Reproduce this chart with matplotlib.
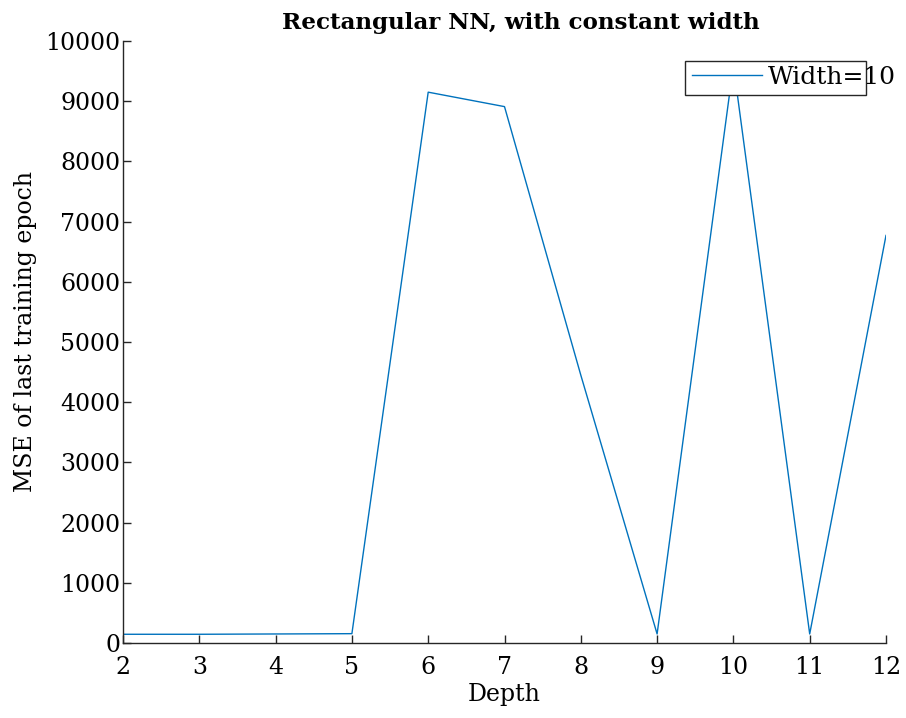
import matplotlib
matplotlib.use("Agg")
import matplotlib.pyplot as plt
from matplotlib.patches import Rectangle

depth = [2, 3, 4, 5, 6, 7, 8, 9, 10, 11, 12]
mse = [145, 145, 150, 155, 9150, 8910, 4450, 150, 9600, 150, 6770]
xticks = [2, 3, 4, 5, 6, 7, 8, 9, 10, 11, 12]
yticks = [0, 1000, 2000, 3000, 4000, 5000, 6000, 7000, 8000, 9000, 10000]
series_label = "Width=10"

plt.rcParams['font.family'] = ['DejaVu Serif']
W, H = 906, 718
fig = plt.figure(figsize=(W / 100, H / 100), dpi=100)
L, R, T, B = 123, 886, 41, 643
ax = fig.add_axes([L / W, 1 - B / H, (R - L) / W, (B - T) / H])

line, = ax.plot(depth, mse, color='#0072BD', lw=1.0, label=series_label)
ax.set_xlim(2, 12)
ax.set_ylim(0, 10000)
ax.set_xticks(xticks)
ax.set_yticks(yticks)
ax.spines['top'].set_visible(False)
ax.spines['right'].set_visible(False)
for s in ('left', 'bottom'):
    ax.spines[s].set_linewidth(1.0)
    ax.spines[s].set_color('#262626')
ax.tick_params(axis='both', direction='in', length=6, width=1.0, colors='#262626',
               labelcolor='black', labelsize=17)
ax.tick_params(axis='x', pad=9)
ax.tick_params(axis='y', pad=2)

ax.set_xlabel('Depth', fontsize=17, labelpad=3)
ax.set_ylabel('MSE of last training epoch', fontsize=17, labelpad=5)
ax.yaxis.set_label_coords((37 - L) / (R - L), (B - 331) / (B - T))
ax.set_title('Rectangular NN, with constant width', fontsize=16.6, fontweight='bold',
             x=(521 - L) / (R - L), pad=9)

# legend box (text overflows box as in reference)
aw, ah = R - L, B - T
ax.add_patch(Rectangle(((685 - L) / aw, (B - 95.3) / ah), (866 - 685) / aw, (95.3 - 60.7) / ah,
                       transform=ax.transAxes, facecolor='white', edgecolor='#262626',
                       lw=1.0, zorder=4, clip_on=False))
leg = ax.legend(handles=[line], labels=[series_label], loc='center left',
                bbox_to_anchor=((692 - L) / aw, (B - 77.7) / ah), frameon=False,
                borderpad=0, borderaxespad=0, handlelength=2.8, handletextpad=0.24,
                fontsize=18)
leg.set_zorder(5)

fig.savefig('out.png', dpi=100)
